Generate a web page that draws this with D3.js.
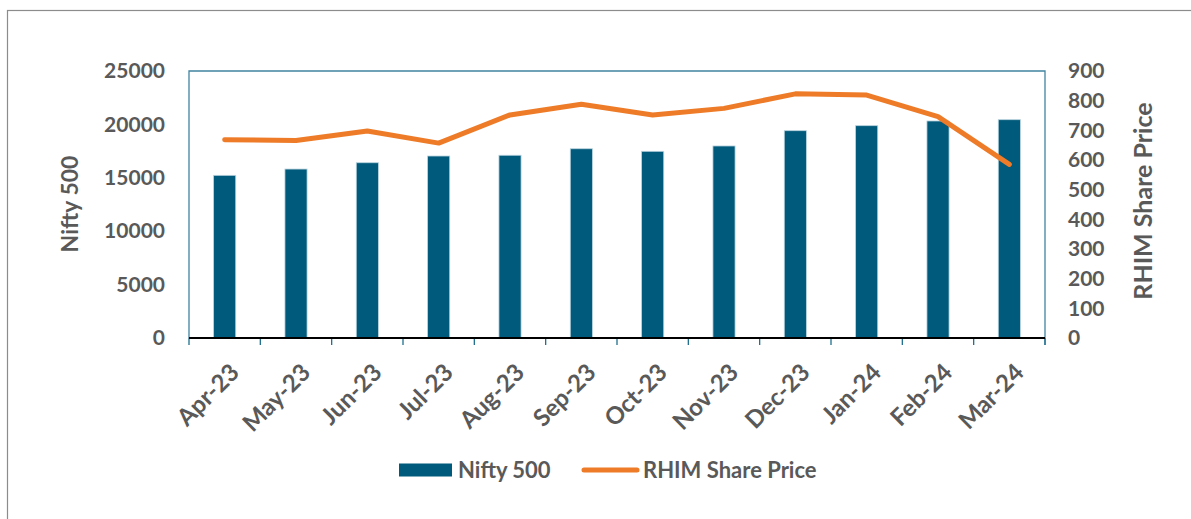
<!DOCTYPE html>
<html>
<head>
<meta charset="utf-8">
<script src="https://cdn.jsdelivr.net/npm/d3@7"></script>
<style>
	body { margin: 0; background: #fff; }
	text { font-family: Lato, "Open Sans", sans-serif; font-weight: bold; fill: #595959; }
</style>
</head>
<body>
<div id="chart"></div>
<script>
// data
const months = ['Apr-23','May-23','Jun-23','Jul-23','Aug-23','Sep-23','Oct-23','Nov-23','Dec-23','Jan-24','Feb-24','Mar-24']
const nifty500 = [15230, 15820, 16410, 17040, 17110, 17720, 17480, 17980, 19410, 19880, 20320, 20440]
const rhimPrice = [668, 666, 698, 657, 752, 788, 752, 774, 823, 819, 746, 585]
const leftTicks = [0, 5000, 10000, 15000, 20000, 25000]
const rightTicks = [0, 100, 200, 300, 400, 500, 600, 700, 800, 900]

const width = 1191
const height = 519
const plot = {left: 189, top: 71, right: 1045, bottom: 338}
const BAR = '#005a7b'
const LINE = '#ee7b27'
const FRAME = '#1f6f8f'

const svg = d3.select('#chart').append('svg')
	.attr('width', width)
	.attr('height', height)

//outer chart border
svg.append('rect')
	.attr('x', 7.5).attr('y', 10.5)
	.attr('width', width + 20).attr('height', height + 20)
	.attr('fill', 'none')
	.attr('stroke', '#8c8c8c')
	.attr('stroke-width', 1.2)

const x = d3.scaleBand()
	.domain(months)
	.range([plot.left, plot.right])
	.paddingInner(0.69)
	.paddingOuter(0.345)
const yL = d3.scaleLinear().domain([0, 25000]).range([plot.bottom, plot.top])
const yR = d3.scaleLinear().domain([0, 900]).range([plot.bottom, plot.top])
const step = x.step()

//plot frame (left, top, right)
svg.append('path')
	.attr('d', `M${plot.left},${plot.bottom}V${plot.top}H${plot.right}V${plot.bottom + 7}`)
	.attr('fill', 'none')
	.attr('stroke', FRAME)
	.attr('stroke-width', 1.3)
	.attr('stroke-opacity', 0.85)

//bars
svg.append('g').selectAll('rect')
	.data(months)
	.join('rect')
	.attr('x', d => x(d))
	.attr('width', x.bandwidth())
	.attr('y', (d, i) => yL(nifty500[i]))
	.attr('height', (d, i) => plot.bottom - yL(nifty500[i]))
	.attr('fill', BAR)
	.attr('stroke', '#b9d3de')
	.attr('stroke-width', 0.8)

//category boundary ticks
const boundaries = d3.range(months.length + 1).map(i => plot.left + i * step)
svg.append('g').selectAll('line')
	.data(boundaries)
	.join('line')
	.attr('x1', d => d).attr('x2', d => d)
	.attr('y1', plot.bottom).attr('y2', plot.bottom + 7)
	.attr('stroke', FRAME)
	.attr('stroke-width', 1.3)

//x axis baseline
svg.append('line')
	.attr('x1', plot.left).attr('x2', plot.right)
	.attr('y1', plot.bottom).attr('y2', plot.bottom)
	.attr('stroke', '#000')
	.attr('stroke-width', 2.2)

//x labels, rotated
svg.append('g').selectAll('text')
	.data(months)
	.join('text')
	.attr('transform', d => `translate(${x(d) + x.bandwidth() / 2 + 10},368) rotate(-45)`)
	.attr('text-anchor', 'end')
	.attr('dy', '0.35em')
	.style('font-size', '24px')
	.text(d => d)

//left axis
const axL = svg.append('g')
	.attr('transform', `translate(${plot.left},0)`)
	.call(d3.axisLeft(yL).tickValues(leftTicks).tickSize(0).tickPadding(24).tickFormat(d3.format('d')))
axL.select('.domain').remove()
axL.selectAll('text').style('font-size', '21px').attr('fill', '#595959').style('font-family', null)

//right axis
const axR = svg.append('g')
	.attr('transform', `translate(${plot.right},0)`)
	.call(d3.axisRight(yR).tickValues(rightTicks).tickSize(0).tickPadding(23))
axR.select('.domain').remove()
axR.selectAll('text').style('font-size', '21px').attr('fill', '#595959').style('font-family', null)

//axis titles
svg.append('text')
	.attr('transform', `translate(78,204) rotate(-90)`)
	.attr('text-anchor', 'middle')
	.style('font-size', '23px')
	.text('Nifty 500')
svg.append('text')
	.attr('transform', `translate(1152,201) rotate(-90)`)
	.attr('text-anchor', 'middle')
	.style('font-size', '25px')
	.text('RHIM Share Price')

//price line
const line = d3.line()
	.x((d, i) => x(months[i]) + x.bandwidth() / 2)
	.y(d => yR(d))
svg.append('path')
	.datum(rhimPrice)
	.attr('d', line)
	.attr('fill', 'none')
	.attr('stroke', LINE)
	.attr('stroke-width', 5)
	.attr('stroke-linecap', 'round')
	.attr('stroke-linejoin', 'round')

//legend
const lg = svg.append('g')
lg.append('rect')
	.attr('x', 399).attr('y', 463.5)
	.attr('width', 53).attr('height', 13)
	.attr('fill', BAR)
lg.append('text')
	.attr('x', 458).attr('y', 477.5)
	.style('font-size', '22px')
	.text('Nifty 500')
lg.append('line')
	.attr('x1', 584).attr('x2', 637)
	.attr('y1', 470).attr('y2', 470)
	.attr('stroke', LINE)
	.attr('stroke-width', 5)
	.attr('stroke-linecap', 'round')
lg.append('text')
	.attr('x', 643).attr('y', 477.5)
	.style('font-size', '22px')
	.text('RHIM Share Price')
</script>
</body>
</html>
